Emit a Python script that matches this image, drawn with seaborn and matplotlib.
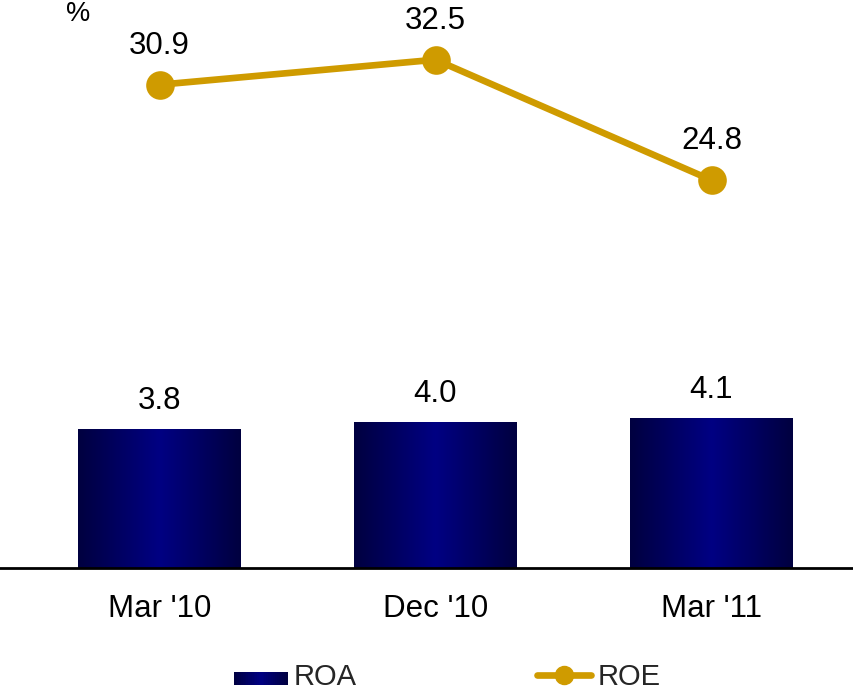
import numpy as np
import pandas as pd
import matplotlib
matplotlib.use("Agg")
import matplotlib.pyplot as plt
import seaborn as sns
from matplotlib.patches import Rectangle
from matplotlib.lines import Line2D
from matplotlib.legend_handler import HandlerBase

categories = ["Mar '10", "Dec '10", "Mar '11"]
roa = [3.8, 4.0, 4.1]
roe = [30.9, 32.5, 24.8]

GOLD = "#CF9B00"
FS = 22.5
sns.set_theme(style="white")
plt.rcParams['font.family'] = ['Liberation Sans', 'DejaVu Sans']

df = pd.DataFrame({"period": categories, "ROA": roa, "ROE": roe})

fig = plt.figure(figsize=(8.54, 6.92), dpi=100)
H = 692.0
ax = fig.add_axes([0, 1 - 568 / H, 1, 568 / H])
sns.barplot(data=df, x="period", y="ROA", ax=ax, width=0.59, color="#000070", saturation=1)

# gradient fill for bars
grad = np.concatenate([np.linspace(0, 1, 50), np.linspace(1, 0, 50)])
cmap = matplotlib.colors.LinearSegmentedColormap.from_list("navy", ["#000040", "#000082"])
for p in list(ax.patches):
    x0, y0 = p.get_x(), p.get_y()
    w, h = p.get_width(), p.get_height()
    im = ax.imshow(grad[np.newaxis, :], cmap=cmap, aspect="auto",
                   extent=[x0, x0 + w, y0, y0 + h], zorder=2, interpolation="bilinear")
    im.set_clip_path(p)
    p.set_facecolor("none")
    p.set_edgecolor("none")
    ax.text(x0 + w / 2, h + 0.77, f"{h:.1f}", ha="center", va="center", fontsize=FS, color="black")

ax.set_ylim(0, 568 / 36.58)
ax.set_xlim(-159.5 / 276, (854 - 159.5) / 276)

ax2 = ax.twinx()
sns.pointplot(data=df, x="period", y="ROE", ax=ax2, color=GOLD, markers="o",
              linewidth=4.8, markersize=8)
for ln in ax2.lines:
    ln.set_markersize(17)
    ln.set_linewidth(4.8)
    ln.set_solid_capstyle("round")
ax2.set_ylim(0, 568 / 15.64)
ax2.set_xlim(-159.5 / 276, (854 - 159.5) / 276)
for i, v in enumerate(roe):
    ax2.text(i, v + 2.5, f"{v:.1f}", ha="center", va="center", fontsize=FS, color="black")

for a in (ax, ax2):
    a.set_xlabel("")
    a.set_ylabel("")
    a.set_yticks([])
    for s in ["top", "right", "left"]:
        a.spines[s].set_visible(False)
    a.patch.set_visible(False)
ax2.spines["bottom"].set_visible(False)
ax.spines["bottom"].set_visible(True)
ax.spines["bottom"].set_color("black")
ax.spines["bottom"].set_linewidth(2)
ax.tick_params(axis="x", length=0, pad=19, labelsize=FS, colors="black")
ax2.tick_params(axis="x", length=0, labelbottom=False)

fig.text(78 / 854, 1 - 1 / H, "%", ha="center", va="top", fontsize=FS - 3, color="black")


class GradientHandler(HandlerBase):
    def create_artists(self, legend, orig_handle, xdescent, ydescent, width, height, fontsize, trans):
        arts = []
        n = 30
        for k in range(n):
            t = 1 - abs((k + 0.5) / n * 2 - 1)
            c = cmap(t)
            r = Rectangle((-xdescent + width * k / n, -ydescent + height * 0.02), width / n + 0.3,
                          height * 0.62, facecolor=c, edgecolor="none", transform=trans)
            arts.append(r)
        return arts


roa_handle = Rectangle((0, 0), 1, 1)
roe_handle = Line2D([0], [0], color=GOLD, lw=4.8, marker="o", markersize=13,
                    solid_capstyle="round")
fig.legend([roa_handle, roe_handle], ["ROA", "ROE"], loc="center",
           bbox_to_anchor=(447 / 854, 1 - 677 / H), ncol=2, frameon=False,
           fontsize=21, handlelength=1.85, handletextpad=0.2, columnspacing=6.2,
           handler_map={Rectangle: GradientHandler()})

fig.savefig("out.png", dpi=100)
